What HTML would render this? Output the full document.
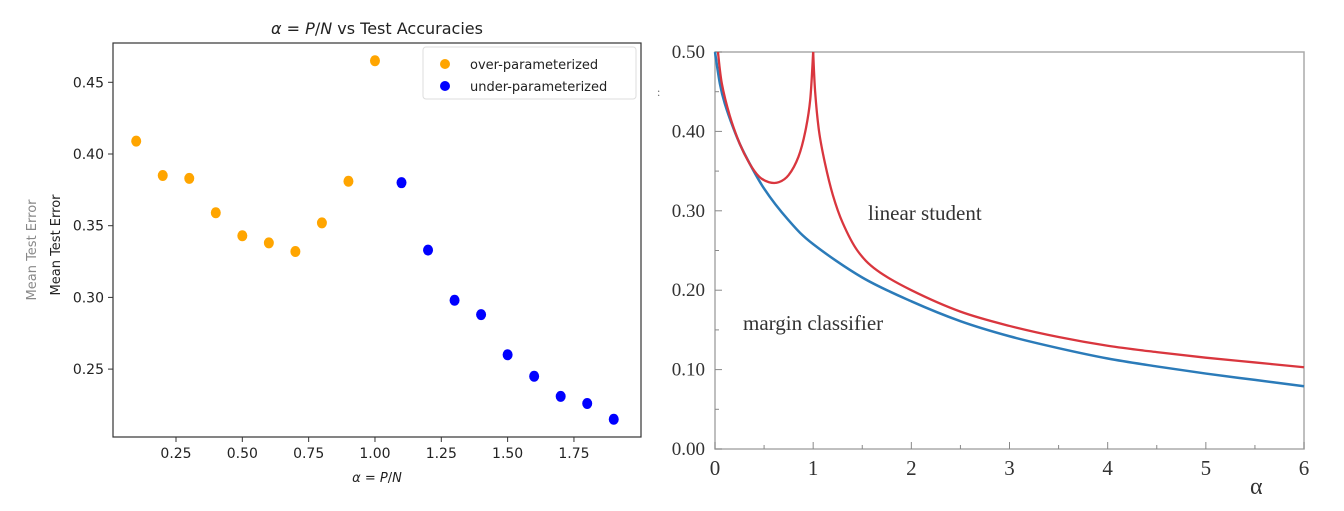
<!DOCTYPE html>
<html><head><meta charset="utf-8"><style>
html,body{margin:0;padding:0;background:#fff;}
svg{display:block;}
.dj{font-family:"DejaVu Sans","Liberation Sans",sans-serif;}
.sf{font-family:"Liberation Serif",serif;}
</style></head><body>
<svg id="s" width="1344" height="511" xmlns="http://www.w3.org/2000/svg">
<rect width="1344" height="511" fill="#fff"/>
<text class="dj" x="377" y="34" font-size="16" text-anchor="middle" fill="#222"><tspan font-style="italic">α</tspan> = <tspan font-style="italic">P</tspan>/<tspan font-style="italic">N</tspan> vs Test Accuracies</text>
<rect x="113" y="43" width="528" height="394" fill="none" stroke="#333" stroke-width="1.2"/>
<g id="lt" class="dj" font-size="14" fill="#222"></g>
<text class="dj" x="377" y="482" font-size="13" text-anchor="middle" fill="#222"><tspan font-style="italic">α</tspan> = <tspan font-style="italic">P</tspan>/<tspan font-style="italic">N</tspan></text>
<text class="dj" transform="translate(60,245) rotate(-90)" font-size="13" text-anchor="middle" fill="#222">Mean Test Error</text>
<text class="dj" transform="translate(36,250) rotate(-90)" font-size="13" text-anchor="middle" fill="#888">Mean Test Error</text>
<g id="pts"></g>
<rect x="423" y="47" width="213" height="52" rx="3" fill="#fff" stroke="#ddd"/>
<circle cx="445" cy="64" r="5" fill="orange"/>
<circle cx="445" cy="86" r="5" fill="blue"/>
<text class="dj" x="470" y="69" font-size="13" fill="#222">over-parameterized</text>
<text class="dj" x="470" y="91" font-size="13" fill="#222">under-parameterized</text>
<rect x="715" y="52" width="589" height="397" fill="none" stroke="#aaa" stroke-width="1.5"/>
<g id="rt" class="sf" font-size="19" fill="#333"></g>
<text class="sf" x="657" y="96" font-size="12" fill="#666">:</text>
<g id="curves"></g>
<text class="sf" x="868" y="220" font-size="21" fill="#333">linear student</text>
<text class="sf" x="743" y="330" font-size="21" fill="#333">margin classifier</text>
<text class="sf" x="1250" y="494" font-size="24" fill="#333">α</text>
</svg>
<script>
var NS="http://www.w3.org/2000/svg";
function el(p,t,a,txt){var e=document.createElementNS(NS,t);for(var k in a)e.setAttribute(k,a[k]);if(txt!=null)e.textContent=txt;document.getElementById(p).appendChild(e);return e;}
function lx(v){return 176+(v-0.25)*265.3;}
function ly(v){return 82.3+(0.45-v)*1434;}
[0.25,0.5,0.75,1,1.25,1.5,1.75].forEach(function(v){var x=lx(v);el("lt","line",{x1:x,x2:x,y1:437,y2:442,stroke:"#333"});el("lt","text",{x:x,y:458,"text-anchor":"middle"},v.toFixed(2));});
[0.25,0.3,0.35,0.4,0.45].forEach(function(v){var y=ly(v);el("lt","line",{x1:108,x2:113,y1:y,y2:y,stroke:"#333"});el("lt","text",{x:104,y:y+5,"text-anchor":"end"},v.toFixed(2));});
var o=[[.1,.409],[.2,.385],[.3,.383],[.4,.359],[.5,.343],[.6,.338],[.7,.332],[.8,.352],[.9,.381],[1,.465]];
var b=[[1.1,.380],[1.2,.333],[1.3,.298],[1.4,.288],[1.5,.260],[1.6,.245],[1.7,.231],[1.8,.226],[1.9,.215]];
o.forEach(function(p){el("pts","ellipse",{cx:lx(p[0]),cy:ly(p[1]),rx:5,ry:5.5,fill:"orange"});});
b.forEach(function(p){el("pts","ellipse",{cx:lx(p[0]),cy:ly(p[1]),rx:5,ry:5.5,fill:"blue"});});
function rx(v){return 715+v*98.17;}
function ry(v){return 449-v*794;}
for(var i=0;i<=6;i++){var x=rx(i);el("rt","line",{x1:x,x2:x,y1:449,y2:442,stroke:"#888"});el("rt","text",{x:x,y:475,"text-anchor":"middle","font-size":"21"},""+i);if(i<6){var xm=rx(i+0.5);el("rt","line",{x1:xm,x2:xm,y1:449,y2:445,stroke:"#888"});}}
for(var j=0;j<=5;j++){var v=j/10,y=ry(v);el("rt","line",{x1:715,x2:722,y1:y,y2:y,stroke:"#888"});el("rt","text",{x:705,y:y+6,"text-anchor":"end"},v.toFixed(2));if(j<5){var ym=ry(v+0.05);el("rt","line",{x1:715,x2:719,y1:ym,y2:ym,stroke:"#888"});}}
function cr(pts){var P=pts.map(function(p){return [rx(p[0]),ry(p[1])];});var d="M"+P[0][0]+","+P[0][1];
for(var i=0;i<P.length-1;i++){var p0=P[i-1]||P[i],p1=P[i],p2=P[i+1],p3=P[i+2]||P[i+1];
d+=" C"+(p1[0]+(p2[0]-p0[0])/6)+","+(p1[1]+(p2[1]-p0[1])/6)+" "+(p2[0]-(p3[0]-p1[0])/6)+","+(p2[1]-(p3[1]-p1[1])/6)+" "+p2[0]+","+p2[1];}return d;}
var blue=[[0,.5],[.05,.46],[.1,.435],[.2,.4],[.3,.372],[.5,.328],[.75,.288],[1,.258],[1.5,.216],[2,.186],[2.5,.161],[3,.142],[3.5,.127],[4,.114],[4.5,.104],[5,.095],[5.5,.087],[6,.079]];
var r1=[[.03,.5],[.07,.46],[.15,.42],[.25,.385],[.35,.36],[.45,.343],[.55,.336],[.65,.336],[.75,.345],[.85,.368],[.92,.4],[.97,.44],[1,.5]];
var r2=[[1,.5],[1.02,.45],[1.06,.4],[1.12,.36],[1.2,.32],[1.3,.285],[1.45,.25],[1.65,.225],[2,.2],[2.5,.173],[3,.155],[3.5,.141],[4,.13],[4.5,.122],[5,.115],[5.5,.109],[6,.103]];
el("curves","path",{d:cr(blue),fill:"none",stroke:"#2b7bb9","stroke-width":2.5});
el("curves","path",{d:cr(r1),fill:"none",stroke:"#d9363e","stroke-width":2.3});
el("curves","path",{d:cr(r2),fill:"none",stroke:"#d9363e","stroke-width":2.3});
</script>
</body></html>
